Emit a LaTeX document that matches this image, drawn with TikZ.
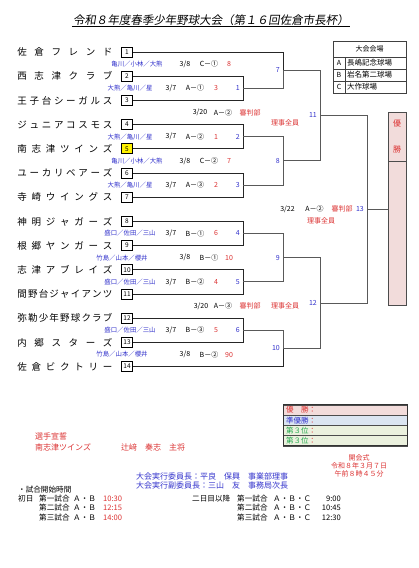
\documentclass[tikz,border=0pt]{standalone}
\usepackage{fontspec}
\setmainfont{Noto Sans CJK JP}
\newfontfamily\titlefont[FakeSlant=0.15]{Noto Sans CJK JP}
\usetikzlibrary{positioning}
\definecolor{umpblue}{RGB}{51,51,204}
\definecolor{scred}{RGB}{220,50,50}
\definecolor{winpink}{RGB}{242,220,219}
\definecolor{runblue}{RGB}{219,229,241}
\definecolor{thirdbg}{RGB}{235,241,222}
\definecolor{thirdtxt}{RGB}{40,170,80}
% spread a team name over a fixed width
\makeatletter
\newcommand\spreadname[1]{\makebox[95pt][s]{\sp@rd#1\@nil}}
\def\sp@rd#1#2\@nil{#1\ifx\relax#2\relax\else\hfill\sp@rd#2\@nil\fi}
\makeatother
\tikzset{
  ttl/.style   ={font=\titlefont\fontsize{11.5}{12}\selectfont, inner sep=1pt},
  numbox/.style={draw, line width=0.8pt, minimum width=11pt, minimum height=10pt,
                 inner sep=0pt, fill=white, font=\fontsize{6.5}{7}\selectfont},
  tname/.style ={inner sep=0pt, font=\fontsize{9.5}{10}\selectfont},
  tline/.style ={line width=0.9pt, black!85},
  bline/.style ={line width=1.0pt, black!65},
  ump/.style   ={font=\fontsize{6.4}{7}\selectfont, text=umpblue, inner sep=0pt},
  dat/.style   ={font=\fontsize{7}{8}\selectfont, inner sep=0pt},
  scr/.style   ={font=\fontsize{7}{8}\selectfont, text=scred, inner sep=0pt},
  mno/.style   ={font=\fontsize{7}{8}\selectfont, text=umpblue, inner sep=0pt},
  jdg/.style   ={font=\fontsize{7}{8}\selectfont, text=scred, inner sep=0pt},
  wincell/.style={draw=black!70, line width=0.8pt, fill=winpink, minimum width=18pt,
                 inner sep=0pt, text=scred, align=center,
                 font=\fontsize{8}{26}\selectfont},
  tblcell/.style={draw=black!75, line width=0.7pt, inner sep=0pt, outer sep=0pt,
                 minimum height=12pt, font=\fontsize{7}{8}\selectfont},
  tblname/.style={tblcell, text width=57pt, inner xsep=2pt, align=left,
                 font=\fontsize{7.5}{8}\selectfont},
  rescell/.style={draw=black!70, line width=0.6pt, minimum height=10.25pt,
                 text width=118pt, inner xsep=3pt, inner ysep=0pt, outer sep=0pt,
                 align=left, font=\fontsize{7.5}{8}\selectfont},
  sen/.style   ={font=\fontsize{8}{9}\selectfont, text=scred, inner sep=0pt},
  cer/.style   ={font=\fontsize{7}{8}\selectfont, text=scred, inner sep=0pt},
  comm/.style  ={font=\fontsize{8}{9}\selectfont, text=umpblue, inner sep=0pt},
  note/.style  ={font=\fontsize{7.6}{8}\selectfont, inner sep=0pt},
}
\begin{document}
\begin{tikzpicture}[x=1pt, y=-1pt]
  \path[fill=white, use as bounding box] (0,0) rectangle (418,568);

  \node[ttl] (title) at (211,20) {令和８年度春季少年野球大会（第１６回佐倉市長杯）};
  \draw[line width=0.6pt] (title.south west) -- (title.south east);

  % team boxes and names
  \foreach \i in {1,2,3,4,6,7,8,9,10,11,12,13,14}
    \node[numbox] (t\i) at (127,{52+24.2*(\i-1)}) {\i};
  \node[numbox, fill=yellow] (t5) at (127,148.8) {5};
  \foreach \i/\nm in {1/佐倉フレンド,2/西志津クラブ,3/王子台シーガルス,
      4/ジュニアコスモス,5/南志津ツインズ,6/ユーカリベアーズ,7/寺崎ウイングス,
      8/神明ジャガーズ,9/根郷ヤンガース,10/志津アブレイズ,11/間野台ジャイアンツ,
      12/弥勒少年野球クラブ,13/内郷スターズ,14/佐倉ビクトリー}
    \node[tname, left=8.5pt of t\i] (n\i) {\expandafter\spreadname\expandafter{\nm}};

  % match points
  \coordinate (m1)  at (243,88.3);
  \coordinate (m2)  at (243,136.7);
  \coordinate (m3)  at (243,185.1);
  \coordinate (m4)  at (243,233.5);
  \coordinate (m5)  at (243,281.9);
  \coordinate (m6)  at (243,330.3);
  \coordinate (m7)  at (283,70.15);
  \coordinate (m8)  at (283,160.9);
  \coordinate (m9)  at (283,257.7);
  \coordinate (m10) at (283,348.45);
  \coordinate (m11) at (320,115.5);
  \coordinate (m12) at (320,303.1);
  \coordinate (m13) at (367,209.3);

  % winner column
  \node[wincell, minimum height=49pt] (wtop) at (397,136.5) {優\\勝};
  \node[wincell, minimum height=144pt] (wbot) at (397,233) {};

  % bracket
  \draw[tline] (t1.east)  -| (m7);
  \draw[tline] (t2.east)  -| (m1);
  \draw[tline] (t3.east)  -| (m1);
  \draw[tline] (t4.east)  -| (m2);
  \draw[tline] (t5.east)  -| (m2);
  \draw[tline] (t6.east)  -| (m3);
  \draw[tline] (t7.east)  -| (m3);
  \draw[tline] (t8.east)  -| (m4);
  \draw[tline] (t9.east)  -| (m4);
  \draw[tline] (t10.east) -| (m5);
  \draw[tline] (t11.east) -| (m5);
  \draw[tline] (t12.east) -| (m6);
  \draw[tline] (t13.east) -| (m6);
  \draw[tline] (t14.east) -| (m10);
  \draw[bline] (m1) -| (m7);
  \draw[bline] (m2) -| (m8);
  \draw[bline] (m3) -| (m8);
  \draw[bline] (m4) -| (m9);
  \draw[bline] (m5) -| (m9);
  \draw[bline] (m6) -| (m10);
  \draw[bline] (m7) -| (m11);
  \draw[bline] (m8) -| (m11);
  \draw[bline] (m9) -| (m12);
  \draw[bline] (m10) -| (m12);
  \draw[bline] (m11) -| (m13);
  \draw[bline] (m12) -| (m13);
  \draw[bline] (m13) -- (m13 -| wbot.west);

  % match numbers
  \foreach \k in {1,...,13}
    \node[mno, left=3pt of m\k] (k\k) {\k};

  % first round info
  \foreach \k/\y/\u/\g/\s in {1/88.3/大熊／亀川／星/A－①/3,
      2/136.7/大熊／亀川／星/A－②/1, 3/185.1/大熊／亀川／星/A－③/2,
      4/233.5/盛口／佐田／三山/B－①/6, 5/281.9/盛口／佐田／三山/B－②/4,
      6/330.3/盛口／佐田／三山/B－③/5}
  {
    \node[ump] (u\k) at (130,\y) {\u};
    \node[dat] (d\k) at (171,\y) {3/7};
    \node[dat] (g\k) at (195,\y) {\g};
    \node[scr] (s\k) at (216,\y) {\s};
  }
  % second round info
  \foreach \k/\y/\x/\u/\g/\s in {7/64.1/137/亀川／小林／大熊/C－①/8,
      8/160.9/137/亀川／小林／大熊/C－②/7, 9/257.7/122/竹島／山本／櫻井/B－①/10,
      10/354.5/122/竹島／山本／櫻井/B－②/90}
  {
    \node[ump] (u\k) at (\x,\y) {\u};
    \node[dat] (d\k) at (185,\y) {3/8};
    \node[dat] (g\k) at (209,\y) {\g};
    \node[scr] (s\k) at (229,\y) {\s};
  }
  % semi finals and final
  \node[dat] (d11) at (200,112.5) {3/20};
  \node[dat] (g11) at (223,112.5) {A－②};
  \node[jdg] (j11) at (250,112.5) {審判部};
  \node[jdg] (r11) at (285,123) {理事全員};
  \node[dat] (d12) at (201,306.1) {3/20};
  \node[dat] (g12) at (223,306.1) {A－③};
  \node[jdg] (j12) at (250,306.1) {審判部};
  \node[jdg] (r12) at (285,306.1) {理事全員};
  \node[dat] (d13) at (287.5,209.3) {3/22};
  \node[dat] (g13) at (314.5,209.3) {A－②};
  \node[jdg] (j13) at (342,209.3) {審判部};
  \node[jdg] (r13) at (321,221) {理事全員};

  % venue table
  \node[tblcell, minimum width=73pt, minimum height=16pt] (venue) at (369.5,49) {大会会場};
  \node[tblcell, minimum width=12pt] (la) at (339,63) {A};
  \node[tblcell, minimum width=12pt, below=0pt of la] (lb) {B};
  \node[tblcell, minimum width=12pt, below=0pt of lb] (lc) {C};
  \node[tblname, right=0pt of la] (va) {長嶋記念球場};
  \node[tblname, right=0pt of lb] (vb) {岩名第二球場};
  \node[tblname, right=0pt of lc] (vc) {大作球場};

  % results
  \node[rescell, fill=winpink] (r1) at (345,410.1) {\textcolor{scred}{優　勝：}};
  \node[rescell, fill=runblue, below=0pt of r1] (r2)
    {\textcolor{umpblue}{準優勝}\textcolor{scred}{：}};
  \node[rescell, fill=thirdbg, below=0pt of r2] (r3)
    {\textcolor{thirdtxt}{第３位}\textcolor{scred}{：}};
  \node[rescell, fill=thirdbg, below=0pt of r3] (r4)
    {\textcolor{thirdtxt}{第３位}\textcolor{scred}{：}};
  \draw[line width=1pt, black!80] (r1.north west) rectangle (r4.south east);

  % ceremony and notes
  \node[sen, anchor=west] (oath)  at (35,436) {選手宣誓};
  \node[sen, anchor=west] (oteam) at (35,447) {南志津ツインズ};
  \node[sen, anchor=west] (ocap)  at (121,447) {辻﨑　奏志　主将};
  \node[cer] (cer1) at (359,457.5) {開会式};
  \node[cer] (cer2) at (359,465.5) {令和８年３月７日};
  \node[cer] (cer3) at (359,473.5) {午前８時４５分};
  \node[comm, anchor=west] (chair)  at (136,476) {大会実行委員長：平良　保興　事業部理事};
  \node[comm, anchor=west] (vchair) at (136,485.5) {大会実行副委員長：三山　友　事務局次長};
  \node[note, anchor=west] (sched) at (18,490) {・試合開始時間};
  \node[note, anchor=west] (day1)  at (18,498.5) {初日};
  \node[note, anchor=west] (day2)  at (192,498.5) {二日目以降};
  \foreach \j/\y/\ta/\tb/\nm in {1/498.5/10:30/9:00/第一試合,
      2/508/12:15/10:45/第二試合, 3/517.5/14:00/12:30/第三試合}
  {
    \node[note, anchor=west] (ga\j) at (39,\y) {\nm};
    \node[note, anchor=west] (fa\j) at (73,\y) {Ａ・Ｂ};
    \node[note, anchor=west, text=scred] (ta\j) at (103,\y) {\ta};
    \node[note, anchor=west] (gb\j) at (237,\y) {\nm};
    \node[note, anchor=west] (fb\j) at (273,\y) {Ａ・Ｂ・Ｃ};
    \node[note, anchor=east] (tb\j) at (341,\y) {\tb};
  }
\end{tikzpicture}
\end{document}
